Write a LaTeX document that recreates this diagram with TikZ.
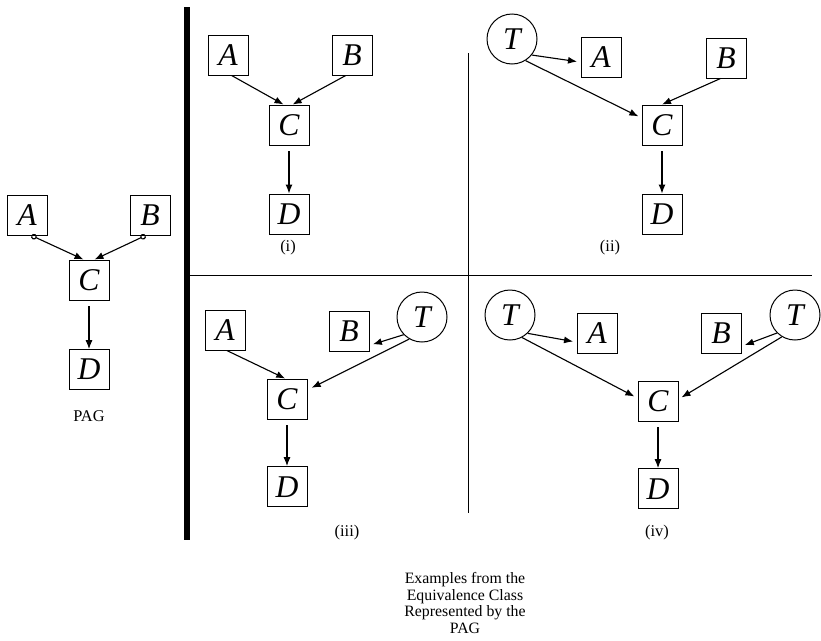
\documentclass[tikz,border=0pt]{standalone}
\usepackage{fontspec}
\setmainfont{Liberation Serif}
\usepackage{tikz}
\usetikzlibrary{positioning,arrows.meta}
\tikzset{
    base/.style={font=\fontsize{27}{27}\selectfont\itshape, inner sep=0pt},
    var/.style={base, rectangle, draw, line width=0.85pt, minimum size=1.2cm},
    latent/.style={base, circle, draw, line width=0.85pt, minimum size=1.5cm},
    flow/.style={-{Latex[length=2.7mm,width=2.1mm]}, line width=0.95pt},
    pagflow/.style={{Circle[open,length=1.7mm,width=1.7mm]}-{Latex[length=2.7mm,width=2.1mm]}, line width=0.95pt},
    tag/.style={font=\fontsize{14}{14}\selectfont, inner sep=0pt},
    caption/.style={font=\fontsize{13.5}{14}\selectfont, align=center, inner sep=0pt},
    divider/.style={line width=0.6pt}
}
\begin{document}
\begin{tikzpicture}[x=0.03cm, y=-0.03cm, node distance=1.44cm]
  \useasboundingbox (0,0) rectangle (821,640);

  % PAG
  \node[var] (pa) at (27,215) {A};
  \node[var] (pb) at (150,215) {B};
  \node[var] (pc) at (89,280) {C};
  \node[var, below=1.46cm of pc] (pd) {D};
  \node[tag] (plab) at (89,416) {PAG};
  \draw[pagflow] (pa.-78) -- (pc.105);
  \draw[pagflow] (pb.-102) -- (pc.75);
  \draw[flow, shorten <=5pt] (pc) -- (pd);

  % Frame
  \coordinate (bartop) at (187,7);
  \coordinate (barbot) at (187,540);
  \coordinate (hleft) at (187,275);
  \coordinate (hright) at (812,275);
  \coordinate (vtop) at (468,53);
  \coordinate (vbot) at (468,513);
  \draw[line width=4.5pt] (bartop) -- (barbot);
  \draw[divider] (hleft) -- (hright);
  \draw[divider] (vtop) -- (vbot);

  % Example (i)
  \node[var] (a1) at (228,55) {A};
  \node[var] (b1) at (352,55) {B};
  \node[var] (c1) at (289,125) {C};
  \node[var, below=of c1] (d1) {D};
  \node[tag] (l1) at (288,248) {(i)};
  \draw[flow] (a1.-80) -- (c1.105);
  \draw[flow] (b1.-107) -- (c1.80);
  \draw[flow, shorten <=5pt] (c1) -- (d1);

  % Example (ii)
  \node[latent] (t2) at (512,39) {T};
  \node[var] (a2) at (601,57) {A};
  \node[var] (b2) at (726,58) {B};
  \node[var] (c2) at (662,125) {C};
  \node[var, below=of c2] (d2) {D};
  \node[tag] (l2) at (610,248) {(ii)};
  \draw[flow, shorten >=3pt] (t2.-39) -- (a2.194);
  \draw[flow, shorten >=3pt] (t2.-58) -- (c2.161);
  \draw[flow] (b2.-105) -- (c2.north);
  \draw[flow, shorten <=5pt] (c2) -- (d2);

  % Example (iii)
  \node[var] (a3) at (225,330) {A};
  \node[var] (b3) at (349,331) {B};
  \node[latent] (t3) at (422,317) {T};
  \node[var] (c3) at (287,399) {C};
  \node[var, below=1.4cm of c3] (d3) {D};
  \node[tag] (l3) at (347,533) {(iii)};
  \draw[flow] (a3.-85) -- (c3.95);
  \draw[flow, shorten >=3pt] (t3.224) -- (b3.-35);
  \draw[flow, shorten >=4pt] (t3.240) -- (c3.24);
  \draw[flow, shorten <=5pt] (c3) -- (d3);

  % Example (iv)
  \node[latent] (t4) at (510,315) {T};
  \node[var] (a4) at (597,333) {A};
  \node[var] (b4) at (721,333) {B};
  \node[latent] (u4) at (795,315) {T};
  \node[var] (c4) at (658,401) {C};
  \node[var, below=1.4cm of c4] (d4) {D};
  \node[tag] (l4) at (657,533) {(iv)};
  \draw[flow, shorten >=3pt] (t4.-46) -- (a4.204);
  \draw[flow, shorten >=3pt] (t4.-62) -- (c4.172);
  \draw[flow, shorten >=3pt] (u4.225) -- (b4.-33);
  \draw[flow, shorten >=3pt] (u4.239) -- (c4.5);
  \draw[flow, shorten <=5pt] (c4) -- (d4);

  % Caption
  \node[caption] (note) at (465,603) {Examples from the\\Equivalence Class\\Represented by the\\PAG};
\end{tikzpicture}
\end{document}
